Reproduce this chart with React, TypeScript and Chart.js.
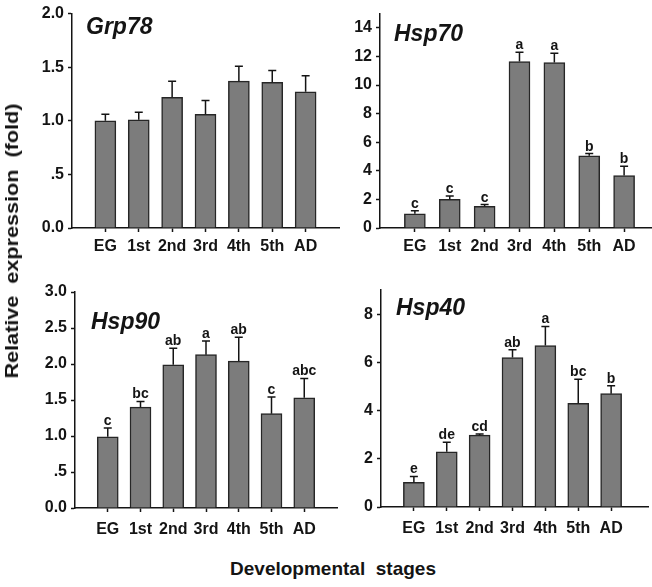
import React, { useEffect, useRef } from 'react';
import { Chart, registerables } from 'chart.js';

Chart.register(...registerables);

const stages = ['EG', '1st', '2nd', '3rd', '4th', '5th', 'AD'];

const grp78Values = [1.0, 1.01, 1.22, 1.06, 1.37, 1.36, 1.27];
const grp78Errors = [0.06, 0.07, 0.15, 0.13, 0.14, 0.11, 0.15];
const grp78Letters: string[] = [];
const grp78Ticks = ['0.0', '.5', '1.0', '1.5', '2.0'];

const hsp70Values = [1.0, 2.0, 1.52, 11.65, 11.58, 5.05, 3.67];
const hsp70Errors = [0.2, 0.24, 0.12, 0.65, 0.65, 0.16, 0.65];
const hsp70Letters = ['c', 'c', 'c', 'a', 'a', 'b', 'b'];
const hsp70Ticks = ['0', '2', '4', '6', '8', '10', '12', '14'];

const hsp90Values = [0.99, 1.4, 1.99, 2.13, 2.04, 1.31, 1.53];
const hsp90Errors = [0.12, 0.08, 0.23, 0.19, 0.33, 0.23, 0.27];
const hsp90Letters = ['c', 'bc', 'ab', 'a', 'ab', 'c', 'abc'];
const hsp90Ticks = ['0.0', '.5', '1.0', '1.5', '2.0', '2.5', '3.0'];

const hsp40Values = [1.02, 2.29, 2.98, 6.2, 6.7, 4.3, 4.7];
const hsp40Errors = [0.25, 0.4, 0.05, 0.32, 0.79, 1.0, 0.33];
const hsp40Letters = ['e', 'de', 'cd', 'ab', 'a', 'bc', 'b'];
const hsp40Ticks = ['0', '2', '4', '6', '8'];

const FAMILY = '"Liberation Sans", Arial, Helvetica, sans-serif';
const INK = '#141414';

type Box = { left: number; top: number; width: number; height: number };
type Area = { left: number; top: number; right: number; bottom: number };

type PanelProps = {
  gene: string;
  values: number[];
  errors: number[];
  letters: string[];
  yMax: number;
  yStep: number;
  yTicks: string[];
  xMax: number;
  box: Box;
  area: Area;
  titleDx: number;
  titleDy: number;
  xLabelPad: number;
};

function Panel(p: PanelProps) {
  const ref = useRef<HTMLCanvasElement | null>(null);

  useEffect(() => {
    if (!ref.current) return;
    const overlay = {
      id: 'overlay',
      afterDatasetsDraw(chart: any) {
        const { ctx, chartArea } = chart;
        const xs = chart.scales.x;
        const ys = chart.scales.y;
        ctx.save();
        ctx.strokeStyle = INK;
        ctx.lineWidth = 1.5;
        ctx.fillStyle = INK;
        p.values.forEach((v, i) => {
          const px = xs.getPixelForValue(i + 1);
          const base = ys.getPixelForValue(v);
          const top = ys.getPixelForValue(v + p.errors[i]);
          ctx.beginPath();
          ctx.moveTo(px, base);
          ctx.lineTo(px, top);
          ctx.moveTo(px - 4, top);
          ctx.lineTo(px + 4, top);
          ctx.stroke();
          if (p.letters[i]) {
            ctx.font = `bold 14px ${FAMILY}`;
            ctx.textAlign = 'center';
            ctx.textBaseline = 'alphabetic';
            ctx.fillText(p.letters[i], px, top - 3);
          }
        });
        ctx.font = `italic bold 23px ${FAMILY}`;
        ctx.textAlign = 'left';
        ctx.textBaseline = 'alphabetic';
        ctx.fillText(p.gene, chartArea.left + p.titleDx, chartArea.top + p.titleDy);
        ctx.restore();
      },
    };

    const tickFont = { family: FAMILY, size: 16, weight: 'bold' as const };

    const chart = new Chart(ref.current, {
      type: 'bar',
      data: {
        datasets: [
          {
            data: p.values.map((v, i) => ({ x: i + 1, y: v })),
            backgroundColor: '#7c7c7c',
            borderColor: '#262626',
            borderWidth: 1.5,
            borderSkipped: 'bottom',
            barThickness: 21,
          } as any,
        ],
      },
      options: {
        animation: false,
        responsive: false,
        maintainAspectRatio: false,
        devicePixelRatio: 1,
        layout: {
          padding: {
            left: 0,
            top: p.area.top - p.box.top,
            right: p.box.left + p.box.width - p.area.right,
            bottom: 0,
          },
        },
        plugins: {
          legend: { display: false },
          tooltip: { enabled: false },
          title: { display: false },
        },
        scales: {
          x: {
            type: 'linear',
            offset: false,
            min: 0,
            max: p.xMax,
            afterFit: (s: any) => {
              s.height = p.box.top + p.box.height - p.area.bottom;
            },
            ticks: {
              stepSize: 1,
              includeBounds: false,
              autoSkip: false,
              maxRotation: 0,
              minRotation: 0,
              padding: p.xLabelPad,
              color: INK,
              font: tickFont,
              callback: (v: any) => stages[Math.round(Number(v)) - 1] ?? '',
            },
            grid: {
              display: true,
              offset: false,
              drawOnChartArea: false,
              drawTicks: true,
              tickLength: 4,
              tickWidth: 1.5,
              tickColor: (ctx: any) =>
                ctx.tick && ctx.tick.value >= 1 && ctx.tick.value <= stages.length ? INK : 'rgba(0,0,0,0)',
            },
            border: { display: true, color: INK, width: 1.5 },
          },
          y: {
            min: 0,
            max: p.yMax,
            afterFit: (s: any) => {
              s.width = p.area.left - p.box.left;
            },
            ticks: {
              stepSize: p.yStep,
              includeBounds: false,
              padding: 4,
              color: INK,
              font: tickFont,
              callback: (v: any) => p.yTicks[Math.round(Number(v) / p.yStep)] ?? '',
            },
            grid: {
              display: true,
              drawOnChartArea: false,
              drawTicks: true,
              tickLength: 4,
              tickWidth: 1.5,
              tickColor: INK,
            },
            border: { display: true, color: INK, width: 1.5 },
          },
        } as any,
      },
      plugins: [overlay],
    });
    return () => chart.destroy();
  }, []);

  return (
    <canvas
      ref={ref}
      width={p.box.width}
      height={p.box.height}
      style={{
        position: 'absolute',
        left: p.box.left,
        top: p.box.top,
        width: p.box.width,
        height: p.box.height,
        display: 'block',
      }}
    />
  );
}

export default function App() {
  return (
    <div
      style={{
        position: 'absolute',
        left: 0,
        top: 0,
        width: 652,
        height: 587,
        background: '#fff',
        overflow: 'hidden',
        fontFamily: FAMILY,
      }}
    >
      <Panel
        gene="Grp78"
        values={grp78Values}
        errors={grp78Errors}
        letters={grp78Letters}
        yMax={2}
        yStep={0.5}
        yTicks={grp78Ticks}
        xMax={8}
        box={{ left: 0, top: 0, width: 345, height: 260 }}
        area={{ left: 72, top: 12, right: 339, bottom: 228 }}
        titleDx={14}
        titleDy={20}
        xLabelPad={5}
      />
      <Panel
        gene="Hsp70"
        values={hsp70Values}
        errors={hsp70Errors}
        letters={hsp70Letters}
        yMax={15}
        yStep={2}
        yTicks={hsp70Ticks}
        xMax={7.8}
        box={{ left: 345, top: 0, width: 307, height: 260 }}
        area={{ left: 380, top: 12, right: 652, bottom: 228 }}
        titleDx={14}
        titleDy={27}
        xLabelPad={5}
      />
      <Panel
        gene="Hsp90"
        values={hsp90Values}
        errors={hsp90Errors}
        letters={hsp90Letters}
        yMax={3}
        yStep={0.5}
        yTicks={hsp90Ticks}
        xMax={8}
        box={{ left: 0, top: 260, width: 345, height: 280 }}
        area={{ left: 75, top: 292, right: 342, bottom: 508 }}
        titleDx={16}
        titleDy={37}
        xLabelPad={8}
      />
      <Panel
        gene="Hsp40"
        values={hsp40Values}
        errors={hsp40Errors}
        letters={hsp40Letters}
        yMax={9}
        yStep={2}
        yTicks={hsp40Ticks}
        xMax={8.15}
        box={{ left: 345, top: 260, width: 307, height: 280 }}
        area={{ left: 381, top: 290, right: 652, bottom: 507 }}
        titleDx={15}
        titleDy={25}
        xLabelPad={8}
      />
      <div
        style={{
          position: 'absolute',
          left: 12,
          top: 241,
          transform: 'translate(-50%, -50%) rotate(-90deg) scaleX(1.2)',
          whiteSpace: 'pre',
          fontWeight: 'bold',
          fontSize: 18,
          color: INK,
          lineHeight: 1,
        }}
      >
        {'Relative  expression  (fold)'}
      </div>
      <div
        style={{
          position: 'absolute',
          left: 333,
          top: 568,
          transform: 'translate(-50%, -50%)',
          whiteSpace: 'pre',
          fontWeight: 'bold',
          fontSize: 19,
          color: INK,
          lineHeight: 1,
        }}
      >
        {'Developmental  stages'}
      </div>
    </div>
  );
}
